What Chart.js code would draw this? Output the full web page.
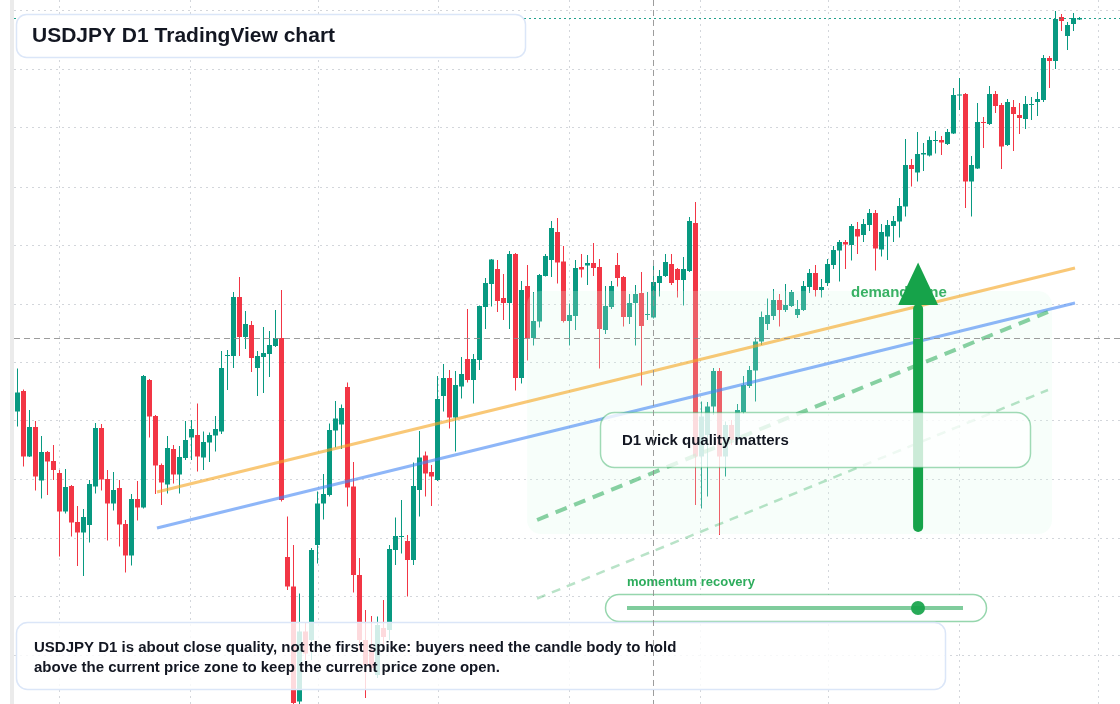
<!DOCTYPE html>
<html>
<head>
<meta charset="utf-8">
<title>USDJPY D1</title>
<script src="https://cdn.jsdelivr.net/npm/chart.js@4.4.1/dist/chart.umd.min.js"></script>
<style>
  html, body { margin: 0; padding: 0; background: #fff; }
  #wrap { position: relative; width: 1120px; height: 704px; }
  canvas { display: block; }
</style>
</head>
<body>
<div id="wrap"><canvas id="myChart" width="1120" height="704"></canvas></div>
<script>
// daily candles, oldest first
const opens = [
  151.77, 152.18, 150.87, 151.46, 150.39, 150.96, 150.78, 150.54, 149.77, 150.28,
  149.56, 149.35, 149.50, 150.27, 151.44, 150.42, 149.93, 150.24, 149.52, 148.89,
  150.02, 149.85, 152.40, 151.68, 150.70, 150.31, 151.02, 150.51, 150.84, 151.25,
  151.30, 150.85, 151.15, 151.29, 151.37, 152.88, 152.88, 154.06, 153.26, 153.50,
  152.64, 152.86, 152.92, 153.08, 153.24, 148.86, 148.27, 145.97, 147.37, 147.20,
  149.10, 149.93, 150.10, 151.39, 151.51, 152.26, 150.27, 148.50, 147.20, 147.00,
  146.50, 147.44, 147.40, 149.00, 149.26, 149.18, 148.80, 150.20, 150.89, 150.56,
  150.40, 152.08, 152.44, 151.65, 152.27, 152.82, 152.40, 152.80, 153.86, 154.32,
  154.62, 154.04, 153.94, 154.92, 152.44, 154.28, 153.24, 153.57, 154.48, 154.80,
  155.36, 154.77, 153.58, 153.68, 154.66, 154.69, 154.74, 154.66, 153.40, 153.86,
  154.70, 154.46, 153.66, 153.94, 154.14, 153.70, 153.65, 154.34, 154.48, 154.72,
  154.62, 154.40, 154.58, 155.54, 150.87, 151.30, 151.87, 152.58, 150.87, 151.50,
  151.20, 151.76, 152.28, 152.59, 153.17, 153.52, 153.68, 154.00, 153.80, 153.88,
  153.70, 153.80, 154.26, 154.54, 154.20, 154.34, 154.70, 154.99, 155.16, 155.10,
  155.42, 155.30, 155.50, 155.74, 155.01, 155.27, 155.48, 155.57, 155.87, 156.70,
  156.55, 156.91, 156.89, 157.18, 157.20, 157.12, 157.33, 158.09, 158.12, 156.37,
  156.63, 157.56, 157.52, 158.12, 157.90, 157.10, 157.86, 157.70, 157.62, 157.90,
  157.96, 158.00, 158.84, 158.78, 159.66, 159.28, 159.52, 159.61
];
const highs = [
  152.63, 152.21, 151.80, 151.58, 151.28, 150.98, 151.10, 150.60, 150.62, 150.30,
  149.88, 149.82, 150.40, 151.54, 151.52, 150.60, 150.56, 150.40, 149.60, 150.12,
  150.38, 152.50, 152.42, 151.70, 150.73, 151.28, 151.10, 151.08, 151.58, 151.60,
  151.93, 151.37, 151.35, 151.68, 152.98, 153.00, 154.16, 154.46, 153.78, 153.58,
  152.98, 153.46, 153.38, 153.80, 154.20, 149.67, 149.10, 148.13, 147.56, 149.04,
  150.17, 150.52, 151.53, 151.98, 151.91, 152.35, 150.76, 148.84, 147.80, 147.68,
  147.67, 148.00, 149.10, 149.65, 150.00, 149.30, 150.75, 151.38, 150.97, 150.70,
  152.48, 152.72, 152.60, 152.58, 152.86, 153.82, 152.92, 153.89, 154.44, 154.82,
  154.80, 154.52, 154.98, 154.94, 154.38, 154.70, 154.16, 154.52, 154.92, 155.58,
  155.64, 155.08, 153.93, 154.80, 154.92, 154.90, 155.14, 154.82, 154.28, 154.38,
  154.94, 154.48, 154.12, 154.30, 154.56, 154.16, 154.68, 154.60, 154.92, 154.92,
  154.64, 154.86, 155.66, 155.96, 151.97, 151.96, 152.64, 152.64, 151.57, 151.60,
  151.92, 152.48, 152.68, 153.25, 153.77, 154.03, 154.22, 154.12, 154.32, 154.20,
  154.00, 154.38, 154.62, 154.70, 154.42, 154.82, 155.08, 155.20, 155.20, 155.52,
  155.56, 155.62, 155.82, 155.80, 155.52, 155.60, 155.68, 156.04, 157.22, 156.82,
  157.36, 157.14, 157.27, 157.38, 157.28, 157.42, 158.24, 158.44, 158.14, 156.88,
  157.94, 157.66, 158.28, 158.18, 157.94, 158.02, 158.00, 157.94, 158.08, 158.06,
  158.16, 158.90, 158.88, 159.78, 159.72, 159.56, 159.74, 159.66
];
const lows = [
  151.47, 150.67, 150.86, 150.19, 150.03, 150.10, 150.40, 148.87, 149.73, 149.27,
  148.68, 148.48, 149.15, 150.13, 150.19, 149.19, 149.79, 149.07, 148.55, 148.69,
  149.59, 149.83, 151.25, 150.12, 149.90, 150.13, 150.33, 150.13, 150.80, 150.80,
  150.57, 150.60, 150.76, 150.97, 151.32, 152.20, 152.64, 152.88, 153.02, 152.56,
  152.08, 152.14, 152.46, 153.06, 149.97, 148.20, 145.76, 145.88, 146.80, 146.80,
  148.73, 149.61, 150.07, 151.05, 151.02, 149.87, 148.15, 147.00, 146.04, 146.56,
  146.44, 147.10, 147.20, 148.70, 148.93, 148.07, 148.70, 149.67, 150.07, 149.88,
  150.38, 151.77, 151.43, 150.97, 152.03, 152.35, 151.93, 152.60, 153.42, 153.87,
  153.76, 153.60, 153.42, 152.19, 152.33, 152.79, 153.09, 153.45, 154.47, 154.46,
  154.33, 153.55, 153.09, 153.40, 154.45, 154.30, 154.48, 152.63, 153.32, 153.82,
  154.27, 153.47, 153.52, 153.09, 152.29, 153.60, 153.63, 154.07, 154.46, 154.30,
  154.05, 153.89, 154.56, 149.90, 149.83, 150.07, 151.70, 149.30, 150.47, 151.10,
  151.16, 151.72, 152.24, 151.97, 153.10, 153.40, 153.60, 153.47, 153.76, 153.86,
  153.64, 153.78, 154.14, 154.07, 154.05, 154.28, 154.62, 154.37, 154.62, 154.79,
  154.92, 155.16, 155.38, 154.59, 154.87, 154.80, 155.16, 155.25, 155.67, 156.27,
  156.37, 156.58, 156.87, 156.93, 156.90, 157.10, 157.32, 157.80, 155.84, 155.67,
  156.62, 157.04, 157.50, 157.74, 156.62, 157.08, 156.98, 157.32, 157.42, 157.60,
  157.68, 157.96, 158.24, 158.62, 159.38, 159.00, 159.38, 159.60
];
const closes = [
  152.15, 150.87, 151.46, 150.47, 150.96, 150.77, 150.60, 149.77, 150.26, 149.55,
  149.35, 149.66, 150.32, 151.44, 150.41, 149.93, 150.20, 149.51, 148.89, 150.02,
  149.85, 152.48, 151.67, 150.69, 150.35, 151.04, 150.51, 150.86, 151.20, 151.42,
  150.87, 151.16, 151.30, 151.42, 152.64, 152.90, 154.06, 153.26, 153.52, 152.84,
  152.88, 152.94, 153.10, 153.24, 150.00, 148.27, 145.94, 147.37, 146.93, 149.00,
  149.93, 150.12, 151.40, 151.63, 151.84, 150.25, 148.50, 147.20, 146.70, 146.64,
  147.50, 147.26, 149.02, 149.28, 149.28, 148.80, 150.28, 150.85, 150.53, 150.47,
  152.02, 152.44, 151.65, 152.30, 152.52, 152.40, 152.82, 153.88, 154.34, 154.81,
  153.98, 153.94, 154.92, 152.44, 154.20, 153.24, 153.58, 154.50, 154.88, 155.44,
  154.75, 153.58, 153.70, 154.64, 154.61, 154.74, 154.64, 153.42, 153.88, 154.28,
  154.44, 153.66, 153.94, 154.12, 153.48, 153.72, 154.36, 154.48, 154.76, 154.34,
  154.40, 154.62, 155.58, 150.87, 151.67, 151.87, 152.58, 150.87, 151.50, 151.20,
  151.80, 152.30, 152.60, 153.17, 153.66, 153.70, 154.00, 153.80, 153.90, 154.16,
  153.82, 154.28, 154.54, 154.20, 154.26, 154.72, 155.00, 155.16, 155.11, 155.48,
  155.27, 155.52, 155.74, 155.03, 155.36, 155.50, 155.58, 155.88, 156.70, 156.62,
  156.92, 156.94, 157.20, 157.20, 157.15, 157.36, 158.10, 158.11, 156.37, 156.70,
  157.56, 157.54, 158.12, 157.88, 157.07, 157.96, 157.72, 157.64, 157.92, 157.92,
  158.02, 158.84, 158.78, 159.62, 159.58, 159.50, 159.64, 159.64
];

// grid positions (month starts on the bar index axis, price levels)
const monthGrid = [7, 28.83, 50.17, 70.17, 92, 113.83, 135.17, 157, 180.17];
const priceGrid = [159.78, 158.61, 157.44, 156.26, 155.09, 153.92, 152.75, 151.58, 150.40, 149.23, 148.06, 146.89];

// drawn trend lines (bar index -> price)
const trendX = [23.25, 176.25];
const orangeY = [150.16, 154.64];
const blueY = [149.44, 153.94];
const channelX = [86.6, 171.75];
const channelUpperY = [149.60, 153.76];
const channelLowerY = [148.03, 152.20];

// demand zone box, arrow, crosshair
const zoneX = [84.92, 172.42];
const zoneY = [149.32, 154.18];
const arrowX = 150.1;
const arrowY = [149.46, 153.90, 154.75]; // tail, head base, tip
const crossX = 106;
const crossY = 153.24;

const upColor = '#089981';
const downColor = '#f23645';
const idx = closes.map((c, i) => i);
const candleColors = closes.map((c, i) => c >= opens[i] ? upColor : downColor);
const FONT = '"Liberation Sans", Arial, sans-serif';

function rr(ctx, x, y, w, h, r) {
  ctx.beginPath();
  ctx.moveTo(x + r, y);
  ctx.arcTo(x + w, y, x + w, y + h, r);
  ctx.arcTo(x + w, y + h, x, y + h, r);
  ctx.arcTo(x, y + h, x, y, r);
  ctx.arcTo(x, y, x + w, y, r);
  ctx.closePath();
}

const overlay = {
  id: 'overlay',
  beforeDraw(chart) {
    const ctx = chart.ctx;
    ctx.save();
    ctx.fillStyle = '#ebebeb';
    ctx.fillRect(10, 0, 4, chart.height);
    ctx.restore();
  },
  afterDatasetDraw(chart, args) {
    if (args.index !== 1) return;
    // light tint of the demand zone over the candles
    const { x, y } = chart.scales;
    const ctx = chart.ctx;
    const x0 = x.getPixelForValue(zoneX[0]), x1 = x.getPixelForValue(zoneX[1]);
    const y0 = y.getPixelForValue(zoneY[1]), y1 = y.getPixelForValue(zoneY[0]);
    ctx.save();
    rr(ctx, x0, y0, x1 - x0, y1 - y0, 14);
    ctx.fillStyle = 'rgba(220,252,231,0.22)';
    ctx.fill();
    ctx.restore();
  },
  afterDatasetsDraw(chart) {
    const { x, y } = chart.scales;
    const ctx = chart.ctx;
    const area = chart.chartArea;
    ctx.save();

    // last price line
    const lp = Math.round(y.getPixelForValue(closes[closes.length - 1])) + 0.5;
    ctx.strokeStyle = 'rgba(8,153,129,0.9)';
    ctx.lineWidth = 1;
    ctx.setLineDash([2, 3]);
    ctx.beginPath(); ctx.moveTo(area.left, lp); ctx.lineTo(area.right, lp); ctx.stroke();
    ctx.setLineDash([]);

    // demand zone label
    ctx.font = 'bold 15px ' + FONT;
    ctx.textBaseline = 'middle';
    ctx.fillStyle = 'rgba(22,163,74,0.85)';
    ctx.fillText('demand zone', 851, 293);

    // arrow
    const ax = x.getPixelForValue(arrowX);
    const yTail = y.getPixelForValue(arrowY[0]);
    const yBase = y.getPixelForValue(arrowY[1]);
    const yTip = y.getPixelForValue(arrowY[2]);
    ctx.strokeStyle = '#16a34a';
    ctx.fillStyle = '#16a34a';
    ctx.lineWidth = 10;
    ctx.lineCap = 'round';
    ctx.beginPath(); ctx.moveTo(ax, yTail); ctx.lineTo(ax, yBase + 4); ctx.stroke();
    ctx.lineCap = 'butt';
    ctx.beginPath();
    ctx.moveTo(ax, yTip); ctx.lineTo(ax - 20, yBase); ctx.lineTo(ax + 20, yBase);
    ctx.closePath(); ctx.fill();

    // callout box
    rr(ctx, 600.5, 412.5, 430, 55, 14);
    ctx.fillStyle = 'rgba(255,255,255,0.78)';
    ctx.fill();
    ctx.strokeStyle = 'rgba(22,163,74,0.4)';
    ctx.lineWidth = 1.5;
    ctx.stroke();
    ctx.fillStyle = '#131722';
    ctx.font = 'bold 15px ' + FONT;
    ctx.fillText('D1 wick quality matters', 622, 441);

    // momentum slider
    ctx.font = 'bold 13px ' + FONT;
    ctx.fillStyle = 'rgba(22,163,74,0.9)';
    ctx.fillText('momentum recovery', 627, 582);
    rr(ctx, 605.5, 594.5, 381, 27, 13.5);
    ctx.fillStyle = '#ffffff';
    ctx.fill();
    ctx.strokeStyle = 'rgba(22,163,74,0.45)';
    ctx.lineWidth = 1.5;
    ctx.stroke();
    ctx.strokeStyle = 'rgba(22,163,74,0.55)';
    ctx.lineWidth = 4;
    ctx.beginPath(); ctx.moveTo(627, 608); ctx.lineTo(963, 608); ctx.stroke();
    ctx.fillStyle = 'rgba(22,163,74,0.92)';
    ctx.beginPath(); ctx.arc(918, 608, 7, 0, Math.PI * 2); ctx.fill();

    // bottom note
    rr(ctx, 16.5, 622.5, 929, 67, 11);
    ctx.fillStyle = 'rgba(255,255,255,0.82)';
    ctx.fill();
    ctx.strokeStyle = '#dbe6f8';
    ctx.lineWidth = 1.5;
    ctx.stroke();
    ctx.fillStyle = '#131722';
    ctx.font = 'bold 15px ' + FONT;
    ctx.fillText('USDJPY D1 is about close quality, not the first spike: buyers need the candle body to hold', 34, 648);
    ctx.fillText('above the current price zone to keep the current price zone open.', 34, 668);

    // title
    rr(ctx, 16.5, 14.5, 509, 43, 10);
    ctx.fillStyle = '#ffffff';
    ctx.fill();
    ctx.strokeStyle = '#dbe6f8';
    ctx.lineWidth = 1.5;
    ctx.stroke();
    ctx.fillStyle = '#131722';
    ctx.font = 'bold 21px ' + FONT;
    ctx.fillText('USDJPY D1 TradingView chart', 32, 36);

    // crosshair
    const cx = Math.round(x.getPixelForValue(crossX)) + 0.5;
    const cy = Math.round(y.getPixelForValue(crossY)) + 0.5;
    ctx.strokeStyle = 'rgba(140,140,140,0.85)';
    ctx.lineWidth = 1;
    ctx.setLineDash([6, 4]);
    ctx.beginPath(); ctx.moveTo(area.left, cy); ctx.lineTo(area.right, cy); ctx.stroke();
    ctx.beginPath(); ctx.moveTo(cx, area.top); ctx.lineTo(cx, area.bottom); ctx.stroke();
    ctx.restore();
  }
};

const gridStyle = { color: 'rgba(175,180,190,0.55)', drawTicks: false, offset: false };
const borderStyle = { display: false, dash: [2, 4] };

const ctx = document.getElementById('myChart').getContext('2d');
const myChart = new Chart(ctx, {
  type: 'bar',
  data: {
    datasets: [
      {
        label: 'wicks',
        data: idx.map(i => ({ x: i, y: [lows[i], highs[i]] })),
        backgroundColor: candleColors,
        barThickness: 1,
        grouped: false,
        inflateAmount: 0,
        order: 10
      },
      {
        label: 'bodies',
        data: idx.map(i => ({ x: i, y: [opens[i], closes[i]] })),
        backgroundColor: candleColors,
        barThickness: 5,
        grouped: false,
        inflateAmount: 0,
        order: 9
      },
      {
        type: 'line',
        label: 'orange trend',
        data: trendX.map((v, i) => ({ x: v, y: orangeY[i] })),
        borderColor: 'rgba(245,166,35,0.62)',
        borderWidth: 3,
        pointRadius: 0,
        order: 4
      },
      {
        type: 'line',
        label: 'blue trend',
        data: trendX.map((v, i) => ({ x: v, y: blueY[i] })),
        borderColor: 'rgba(66,133,244,0.6)',
        borderWidth: 3,
        pointRadius: 0,
        order: 3
      },
      {
        type: 'line',
        label: 'channel upper',
        data: channelX.map((v, i) => ({ x: v, y: channelUpperY[i] })),
        borderColor: 'rgba(22,163,74,0.5)',
        borderWidth: 4,
        borderDash: [12, 8],
        pointRadius: 0,
        order: 2
      },
      {
        type: 'line',
        label: 'channel lower',
        data: channelX.map((v, i) => ({ x: v, y: channelLowerY[i] })),
        borderColor: 'rgba(22,163,74,0.3)',
        borderWidth: 2.5,
        borderDash: [9, 7],
        pointRadius: 0,
        order: 1
      }
    ]
  },
  options: {
    responsive: false,
    animation: false,
    events: [],
    layout: { padding: { left: 14, right: 0, top: 0, bottom: 0 } },
    plugins: {
      legend: { display: false },
      tooltip: { enabled: false }
    },
    scales: {
      x: {
        type: 'linear',
        min: -0.5833,
        max: 183.75,
        offset: false,
        grid: gridStyle,
        border: borderStyle,
        ticks: { display: false },
        afterBuildTicks: s => { s.ticks = monthGrid.map(v => ({ value: v })); }
      },
      y: {
        type: 'linear',
        min: 145.92,
        max: 160,
        beginAtZero: false,
        grid: gridStyle,
        border: borderStyle,
        ticks: { display: false },
        afterBuildTicks: s => { s.ticks = priceGrid.map(v => ({ value: v })); }
      }
    }
  },
  plugins: [overlay]
});
</script>
</body>
</html>
